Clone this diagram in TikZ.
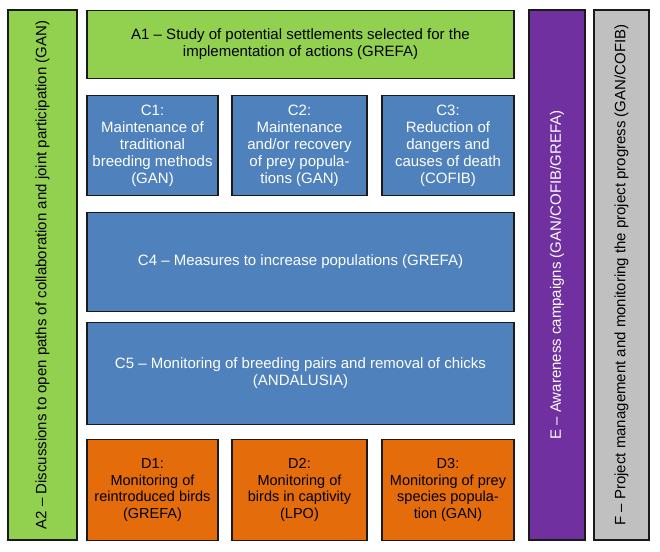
\documentclass[tikz,border=0pt]{standalone}
\usepackage{fontspec}
\setmainfont{Liberation Sans}
\definecolor{cgreen}{HTML}{92D050}
\definecolor{cblue}{HTML}{4F81BD}
\definecolor{corange}{HTML}{E46C0A}
\definecolor{cpurple}{HTML}{7030A0}
\definecolor{cgray}{HTML}{C0C0C0}
\definecolor{cborder}{HTML}{1A1A1A}
\tikzset{
  box/.style={draw=cborder, line width=1.4pt, rectangle, inner sep=0pt, align=center,
    font=\fontsize{15}{17}\selectfont},
  greenbox/.style={box, fill=cgreen, text=black},
  bluebox/.style={box, fill=cblue, text=white},
  orangebox/.style={box, fill=corange, text=black, font=\fontsize{14.5}{16.7}\selectfont},
  purplebox/.style={box, fill=cpurple, text=white},
  graybox/.style={box, fill=cgray, text=black},
}
\begin{document}
\begin{tikzpicture}[x=1pt,y=-1pt]
\useasboundingbox (0,0) rectangle (660,551);
% left column
\node[greenbox, rotate=90, minimum width=530pt, minimum height=69pt] (A2) at (42.5,275)
  {A2 – Discussions to open paths of collaboration and joint participation (GAN)};
% A1
\node[greenbox, minimum width=427pt, minimum height=68pt] (A1) at (300.5,44.5)
  {A1 – Study of potential settlements selected for the\\implementation of actions (GREFA)};
% C1-C3
\node[bluebox, minimum width=131pt, minimum height=100pt] (C1) at (152.5,145.5)
  {C1:\\Maintenance of\\traditional\\breeding methods\\(GAN)};
\node[bluebox, minimum width=135pt, minimum height=100pt] (C2) at (299.5,145.5)
  {C2:\\Maintenance\\and/or recovery\\of prey popula-\\tions (GAN)};
\node[bluebox, minimum width=132pt, minimum height=100pt] (C3) at (448,145.5)
  {C3:\\Reduction of\\dangers and\\causes of death\\(COFIB)};
% C4, C5
\node[bluebox, minimum width=427pt, minimum height=99pt] (C4) at (300.5,262)
  {C4 – Measures to increase populations (GREFA)};
\node[bluebox, minimum width=427pt, minimum height=102pt] (C5) at (300.5,373.5)
  {C5 – Monitoring of breeding pairs and removal of chicks\\(ANDALUSIA)};
% D1-D3
\node[orangebox, minimum width=131pt, minimum height=101pt] (D1) at (152.5,490)
  {D1:\\Monitoring of\\reintroduced birds\\(GREFA)};
\node[orangebox, minimum width=135pt, minimum height=101pt] (D2) at (299.5,490)
  {D2:\\Monitoring of\\birds in captivity\\(LPO)};
\node[orangebox, minimum width=132pt, minimum height=101pt] (D3) at (448,490)
  {D3:\\Monitoring of prey\\species popula-\\tion (GAN)};
% E, F
\node[purplebox, rotate=90, minimum width=530pt, minimum height=56pt] (E) at (557,275)
  {E – Awareness campaigns (GAN/COFIB/GREFA)};
\node[graybox, rotate=90, minimum width=530pt, minimum height=55pt] (F) at (621.5,275)
  {F – Project management and monitoring the project progress (GAN/COFIB)};
\end{tikzpicture}
\end{document}
